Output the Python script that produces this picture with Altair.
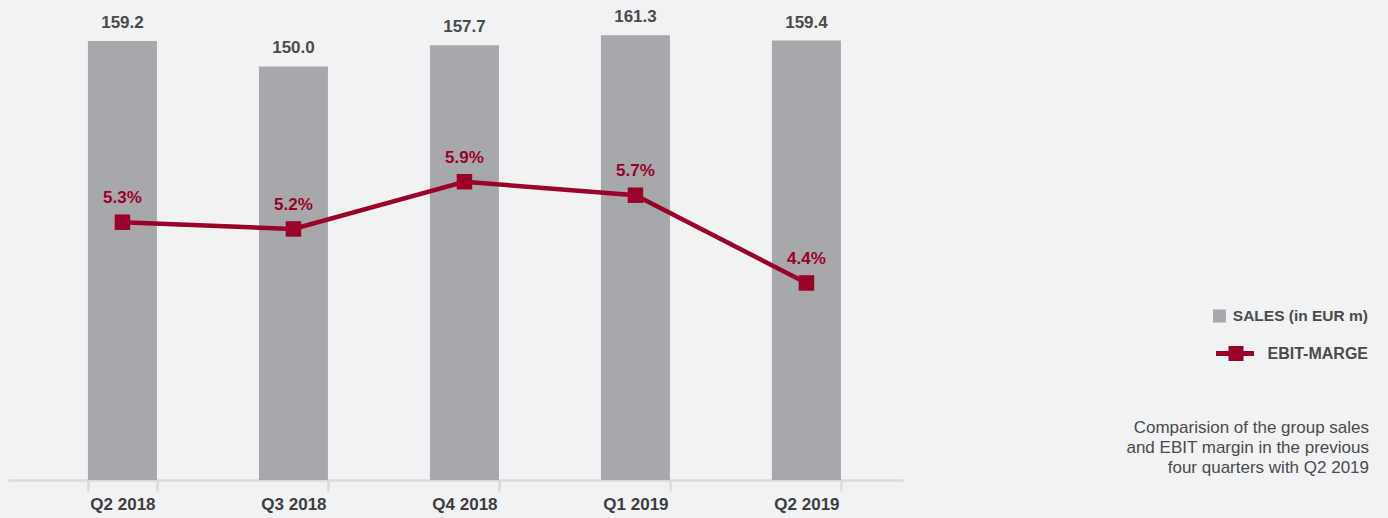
import altair as alt
import pandas as pd

quarters = ["Q2 2018", "Q3 2018", "Q4 2018", "Q1 2019", "Q2 2019"]
sales = [159.2, 150.0, 157.7, 161.3, 159.4]
ebit_margin = [5.3, 5.2, 5.9, 5.7, 4.4]

legend_labels = ["SALES (in EUR m)", "EBIT-MARGE"]
caption_lines = [
    "Comparision of the group sales",
    "and EBIT margin in the previous",
    "four quarters with Q2 2019",
]

BG = "#f1f2f4"
BAR = "#a7a8ab"
RED = "#9b0029"
TXT = "#4a4a4c"
FONT = "Liberation Sans"

df = pd.DataFrame({"q": quarters, "sales": sales, "ebit": ebit_margin})
df["sales_lbl"] = [f"{v:.1f}" for v in sales]
df["ebit_lbl"] = [f"{v:.1f}%" for v in ebit_margin]

xenc = alt.X(
    "q:N",
    sort=quarters,
    title=None,
    scale=alt.Scale(range=[8, 903], paddingInner=0.596, paddingOuter=0.415, align=0.563),
    axis=alt.Axis(
        labelAngle=0,
        labelFont=FONT,
        labelFontSize=17,
        labelFontWeight="bold",
        labelColor="#3d3d3f",
        labelPadding=5,
        labelBaseline="top",
        domainColor="#d9dadc",
        domainWidth=2.5,
        tickColor="#d9dadc",
        tickWidth=2.5,
        tickSize=11,
        tickBand="extent",
        grid=False,
    ),
)

base = alt.Chart(df)

ysales = alt.Y("sales:Q", scale=alt.Scale(domain=[0, 174.1], nice=False, zero=True), axis=None)
bars = base.mark_bar(color=BAR, size=69).encode(x=xenc, y=ysales)
bar_text = base.mark_text(
    font=FONT, fontSize=17, fontWeight="bold", color=TXT, baseline="alphabetic", dy=-13
).encode(x=xenc, y=ysales, text="sales_lbl:N")

sales_layer = alt.layer(bars, bar_text)

yebit = alt.Y("ebit:Q", scale=alt.Scale(domain=[1.481, 8.592], nice=False, zero=False), axis=None)
line = base.mark_line(color=RED, strokeWidth=4.5).encode(x=xenc, y=yebit)
pts = base.mark_square(color=RED, size=240, opacity=1).encode(x=xenc, y=yebit)
ebit_text = base.mark_text(
    font=FONT, fontSize=17, fontWeight="bold", color=RED, baseline="middle", dy=-24
).encode(x=xenc, y=yebit, text="ebit_lbl:N")

ebit_layer = alt.layer(line, pts, ebit_text)

one = alt.Chart(pd.DataFrame({"k": [0]}))
leg_sq = one.mark_square(color=BAR, size=170, opacity=1).encode(
    x=alt.value(1219.5), y=alt.value(316)
)
leg_t1 = one.mark_text(
    text=legend_labels[0], font=FONT, fontSize=15.5, fontWeight="bold", color=TXT,
    align="right", baseline="middle"
).encode(x=alt.value(1368), y=alt.value(316))
leg_line = one.mark_rule(color=RED, strokeWidth=5).encode(
    x=alt.value(1216), x2=alt.value(1254), y=alt.value(353.5)
)
leg_sq2 = one.mark_square(color=RED, size=225, opacity=1).encode(
    x=alt.value(1236), y=alt.value(353.5)
)
leg_t2 = one.mark_text(
    text=legend_labels[1], font=FONT, fontSize=16, fontWeight="bold", color=TXT,
    align="right", baseline="middle"
).encode(x=alt.value(1368), y=alt.value(353.5))
caption = one.mark_text(
    text=caption_lines, font=FONT, fontSize=17, color=TXT, align="right",
    baseline="top", lineHeight=20
).encode(x=alt.value(1369), y=alt.value(420))

chart = (
    alt.layer(sales_layer, ebit_layer, leg_sq, leg_t1, leg_line, leg_sq2, leg_t2, caption)
    .resolve_scale(y="independent")
    .properties(
        width=1388,
        height=480,
        padding={"left": 0, "top": 0, "right": 0, "bottom": 38},
        autosize=alt.AutoSizeParams(type="none"),
        background=BG,
    )
    .configure_view(stroke=None, fill=BG)
)

chart.save("out.html", embed_options={"renderer": "svg", "actions": False})
